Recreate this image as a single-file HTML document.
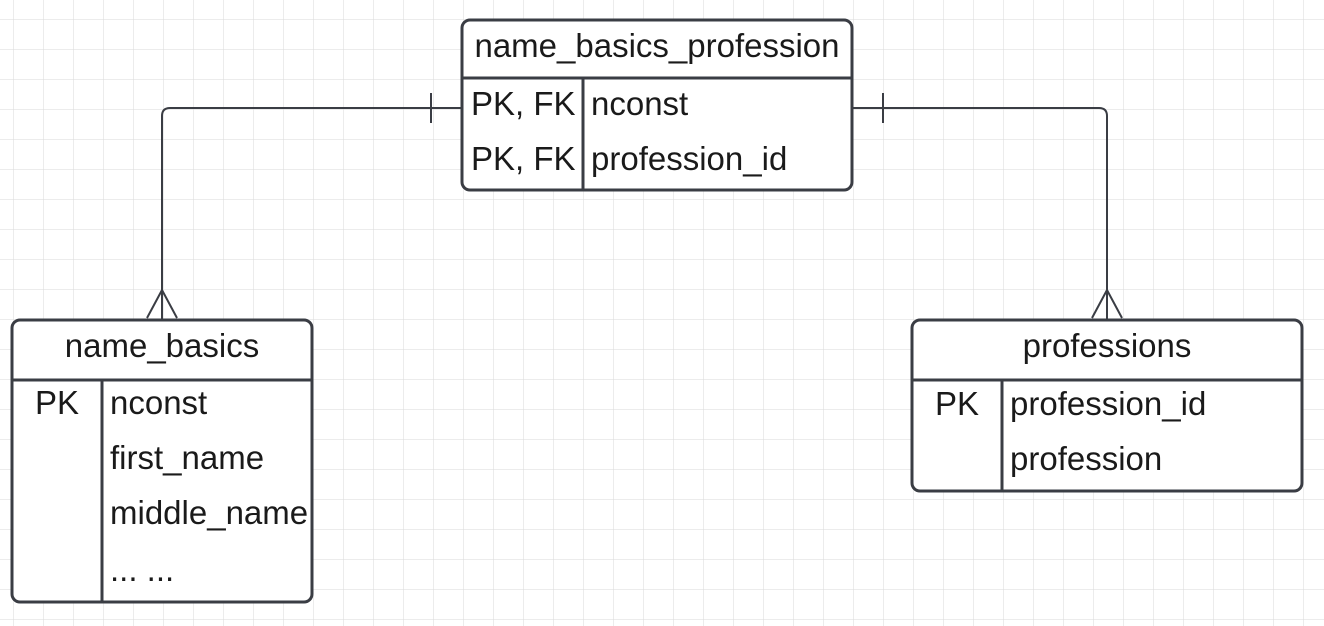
<!DOCTYPE html>
<html><head><meta charset="utf-8"><style>
html,body{margin:0;padding:0;background:#fff;}
svg{display:block;}
text{font-family:"Liberation Sans",Arial,sans-serif;font-size:33px;fill:#1a1a1a;}
</style></head><body>
<svg width="1324" height="626" viewBox="0 0 1324 626" xmlns="http://www.w3.org/2000/svg">
<defs>
<pattern id="g" x="13" y="19" width="30" height="30" patternUnits="userSpaceOnUse">
<path d="M0 0H30M0 0V30" stroke="#dadada" stroke-width="1" fill="none"/>
</pattern>
</defs>
<rect width="1324" height="626" fill="#fff"/>
<rect width="1324" height="626" fill="url(#g)"/>
<g stroke="#3a3d44" stroke-width="2" fill="none">
<path d="M462 108H170Q162 108 162 116V320"/>
<path d="M431 93V123"/>
<path d="M147 318L162 290L177 318"/>
<path d="M852 108H1099Q1107 108 1107 116V320"/>
<path d="M883 93V123"/>
<path d="M1092 318L1107 290L1122 318"/>
</g>
<g stroke="#3a3d44" stroke-width="3" fill="#fff">
<rect x="462" y="20" width="390" height="170" rx="8"/>
<rect x="12" y="320" width="300" height="282" rx="8"/>
<rect x="912" y="320" width="390" height="171" rx="8"/>
</g>
<g stroke="#3a3d44" stroke-width="3">
<path d="M462 78H852M583 78V190"/>
<path d="M12 380H312M102 380V602"/>
<path d="M912 380H1302M1002 380V491"/>
</g>
<text x="657" y="57" text-anchor="middle">name_basics_profession</text>
<text x="471" y="115">PK, FK</text>
<text x="591" y="115">nconst</text>
<text x="471" y="170">PK, FK</text>
<text x="591" y="170">profession_id</text>
<text x="162" y="357" text-anchor="middle">name_basics</text>
<text x="57" y="414" text-anchor="middle">PK</text>
<text x="110" y="414">nconst</text>
<text x="110" y="469">first_name</text>
<text x="110" y="524">middle_name</text>
<text x="110" y="581">... ...</text>
<text x="1107" y="357" text-anchor="middle">professions</text>
<text x="957" y="415" text-anchor="middle">PK</text>
<text x="1010" y="415">profession_id</text>
<text x="1010" y="470">profession</text>
</svg>
</body></html>
